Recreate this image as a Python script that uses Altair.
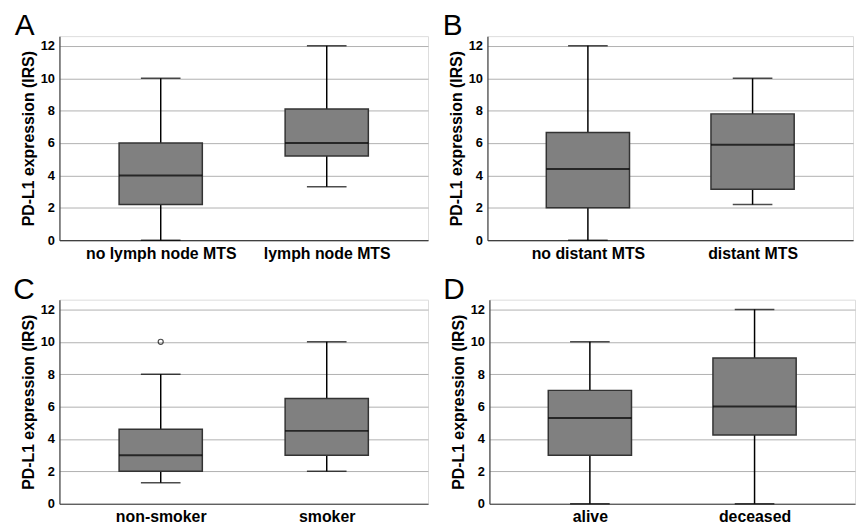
import altair as alt
import pandas as pd

letters = ["A", "B", "C", "D"]
groups = [["no lymph node MTS", "lymph node MTS"],
          ["no distant MTS", "distant MTS"],
          ["non-smoker", "smoker"],
          ["alive", "deceased"]]
whisker_low = [[0, 3.3], [0, 2.2], [1.3, 2], [0, 0]]
q1 = [[2.2, 5.2], [2, 3.15], [2, 3], [3, 4.25]]
median = [[4, 6], [4.4, 5.9], [3, 4.5], [5.3, 6]]
q3 = [[6, 8.1], [6.65, 7.8], [4.6, 6.5], [7, 9]]
whisker_high = [[10, 12], [12, 10], [8, 10], [10, 12]]
outlier_panel = ["C"]
outlier_group = ["non-smoker"]
outlier_value = [10]
y_ticks = [0, 2, 4, 6, 8, 10, 12]
y_max = 12.6

FONT = "Liberation Sans"


def panel(i, width):
    df = pd.DataFrame({
        "group": groups[i], "lo": whisker_low[i], "q1": q1[i],
        "med": median[i], "q3": q3[i], "hi": whisker_high[i],
    })
    xenc = alt.X("group:N", sort=groups[i],
                 scale=alt.Scale(type="point", padding=0.61),
                 axis=alt.Axis(title=None, labelAngle=0, ticks=False,
                               labelFontSize=16, labelFontWeight="bold",
                               labelColor="black", labelPadding=5,
                               domainColor="#404040", domainWidth=1.2,
                               grid=False))
    yscale = alt.Scale(domain=[0, y_max], nice=False, zero=True)
    yaxis = alt.Axis(title="PD-L1 expression (IRS)", values=y_ticks,
                     ticks=False, labelFontSize=13, labelFontWeight="bold",
                     labelColor="black", labelPadding=5, labelOverlap=False,
                     domainColor="#404040", domainWidth=1.2,
                     grid=True, gridColor="#b0b0b0", gridWidth=1,
                     titleFontSize=16, titleFontWeight="bold",
                     titleColor="black", titlePadding=4)

    def Y(field):
        return alt.Y(field, scale=yscale, axis=yaxis)

    base = alt.Chart(df)
    whisk = base.mark_rule(color="black", strokeWidth=1.5).encode(
        x=xenc, y=Y("lo:Q"), y2="hi:Q")
    cap_lo = base.mark_tick(color="black", size=40, thickness=1.5).encode(
        x=xenc, y=Y("lo:Q"))
    cap_hi = base.mark_tick(color="black", size=40, thickness=1.5).encode(
        x=xenc, y=Y("hi:Q"))
    box = base.mark_bar(size=84, color="#808080", stroke="#333333",
                        strokeWidth=1.5, opacity=1).encode(
        x=xenc, y=Y("q1:Q"), y2="q3:Q")
    med = base.mark_tick(color="black", size=84, thickness=2).encode(
        x=xenc, y=Y("med:Q"))
    layers = [whisk, cap_lo, cap_hi, box, med]
    out_rows = [{"group": g, "v": v} for p, g, v in
                zip(outlier_panel, outlier_group, outlier_value) if p == letters[i]]
    if out_rows:
        pts = alt.Chart(alt.Data(values=out_rows)).mark_point(
            shape="circle", filled=False, color="black", size=26,
            strokeWidth=1.2).encode(x=xenc, y=Y("v:Q"))
        layers.append(pts)
    lab = alt.Chart(alt.Data(values=[{"t": letters[i]}])).mark_text(
        fontSize=30, font=FONT, align="right", baseline="alphabetic",
        color="black").encode(x=alt.value(-25), y=alt.value(-1), text="t:N")
    layers.append(lab)
    return alt.layer(*layers).properties(width=width, height=206)


row1 = alt.hconcat(panel(0, 372), panel(1, 369), spacing=13)
row2 = alt.hconcat(panel(2, 372), panel(3, 369), spacing=13)
chart = alt.vconcat(row1, row2, spacing=12).properties(
    padding={"left": 12, "top": 8, "right": 0, "bottom": 0}
).configure_view(stroke=None).configure(font=FONT).configure_axis(
    labelFont=FONT, titleFont=FONT)

chart.save("out.html", embed_options={"renderer": "svg", "actions": False})
